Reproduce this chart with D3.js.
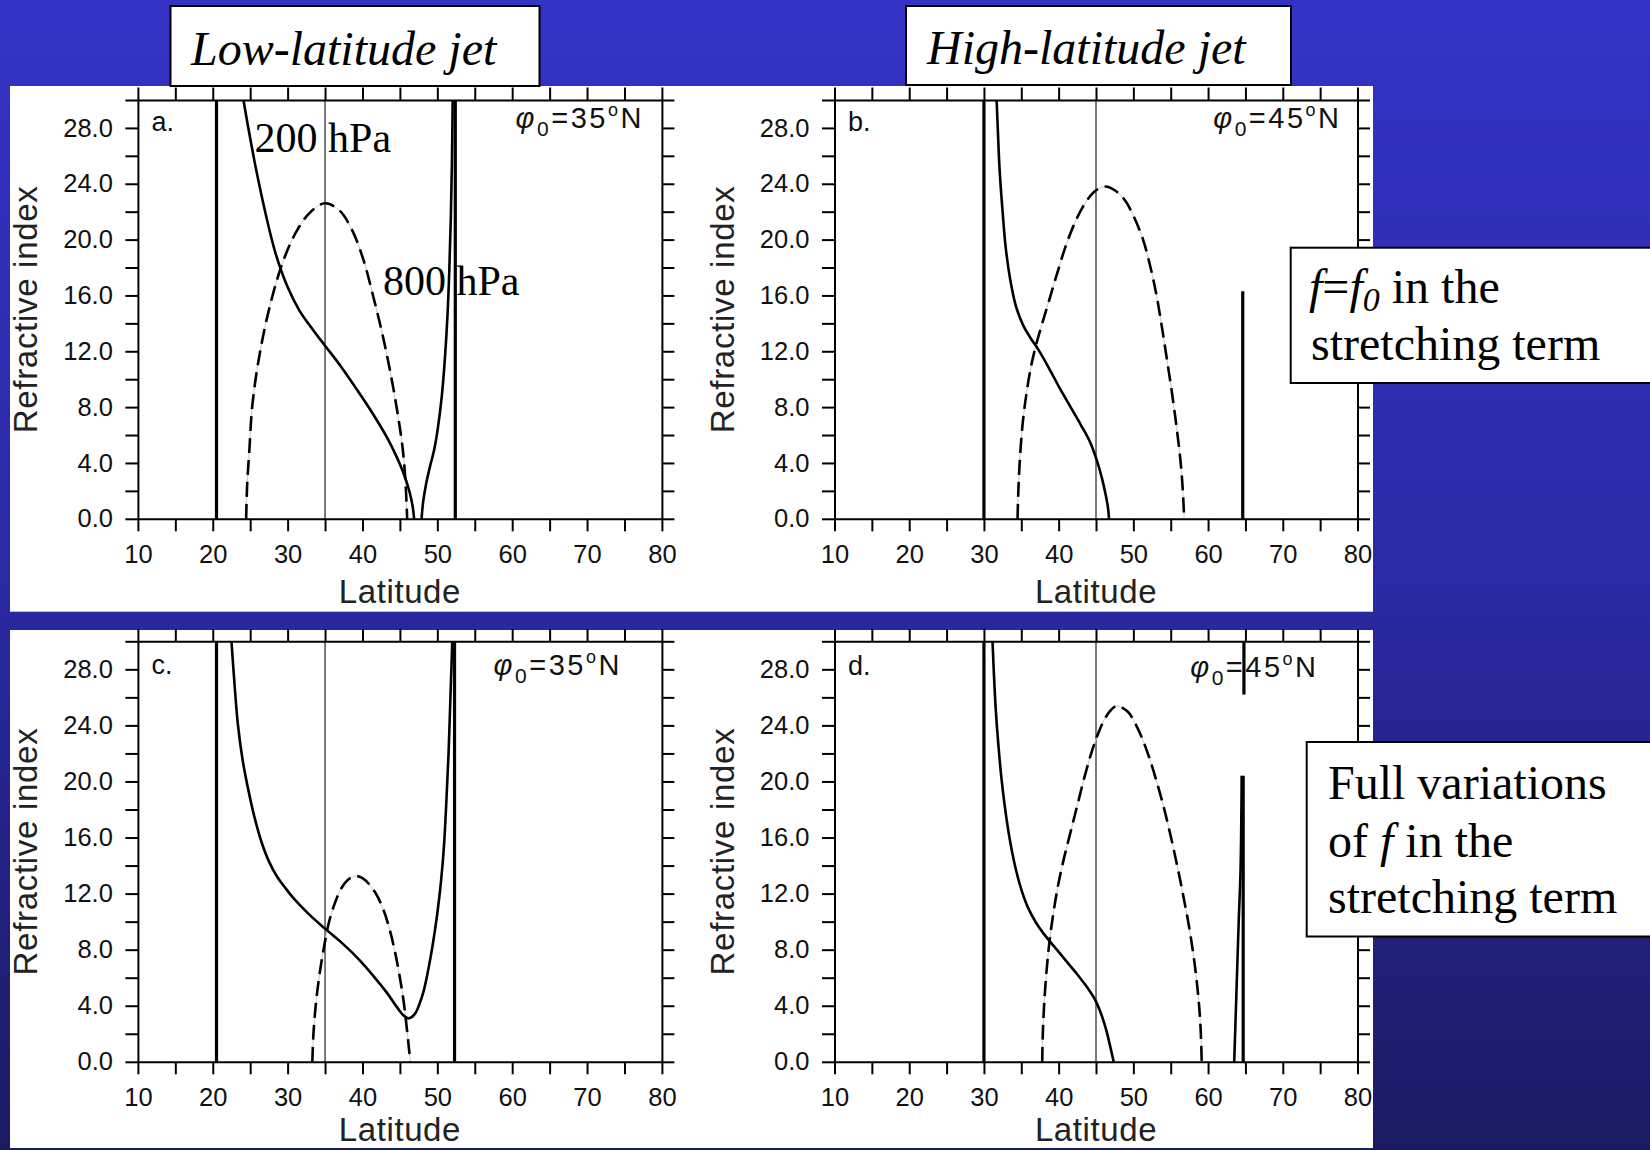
<!DOCTYPE html>
<html><head><meta charset="utf-8">
<script src="https://cdn.jsdelivr.net/npm/d3@7"></script>
<style>body{margin:0;background:#fff;} svg{display:block;}</style>
</head><body>
<svg id="chart" width="1650" height="1150"></svg>
<script>
// ---------------- data ----------------
const latTicks = [10,15,20,25,30,35,40,45,50,55,60,65,70,75,80];
const latLabels = [10,20,30,40,50,60,70,80];
const refTicks = [0,2,4,6,8,10,12,14,16,18,20,22,24,26,28,30];
const refLabels = [0,4,8,12,16,20,24,28];

const panelLetters = ["a.", "b.", "c.", "d."];
const phi0 = [35, 45, 35, 45];
const titles = ["Low-latitude jet", "High-latitude jet"];

// panel a (phi0 = 35N, f = f0): solid = 200 hPa, dashed = 800 hPa
const aSolid1 = [[24.1,30],[24.75,28],[25.8,25],[27.0,22],[28.4,19],[30.0,16.6],[31.6,14.9],[33.3,13.6],[35,12.4],[37,11.0],[39.2,9.3],[41.3,7.6],[43.2,5.9],[44.6,4.4],[45.6,3.1],[46.3,1.9],[46.7,0.9],[46.9,0]];
const aSolid2 = [[47.9,0],[48.1,1.2],[48.5,2.5],[49.0,3.7],[49.6,5.0],[50.1,6.6],[50.6,8.8],[51.0,11.4],[51.35,14.5],[51.6,17.8],[51.8,21.5],[51.95,25.5],[52.05,30]];
const aDash = [[24.46,0],[24.6,2.5],[24.9,5],[25.3,8.2],[26.3,11.9],[27.8,15.6],[29.5,18.6],[31.3,20.7],[33.1,22.0],[35,22.6],[36.9,22.1],[38.6,20.7],[40.1,18.6],[41.5,15.8],[42.8,12.9],[43.9,10.0],[44.8,7.2],[45.4,4.9],[45.75,2.6],[45.97,0]];
const aWalls = [[20.5,0,30],[52.4,0,30]];

// panel b (phi0 = 45N, f = f0)
const bSolid1 = [[31.7,30],[31.85,28],[32.1,25],[32.5,22],[32.9,19.5],[33.5,17.2],[34.3,15.2],[35.3,13.8],[36.3,12.9],[37.3,12.1],[38.7,10.8],[40.2,9.3],[41.6,8.0],[43.0,6.7],[44.2,5.5],[45.1,4.2],[45.8,2.9],[46.3,1.7],[46.6,0.8],[46.75,0]];
const bDash = [[34.5,0],[34.62,2.2],[34.85,4.6],[35.2,6.9],[35.7,9.0],[36.3,10.9],[37.0,12.5],[37.8,14.0],[38.7,15.6],[39.7,17.4],[40.8,19.3],[42.0,21.0],[43.3,22.4],[44.7,23.4],[46.2,23.8],[47.6,23.5],[48.9,22.8],[50.1,21.6],[51.3,20.0],[52.3,18.0],[53.1,16.0],[53.8,13.8],[54.5,11.4],[55.2,8.9],[55.8,6.5],[56.3,4.2],[56.6,2.2],[56.8,0]];
const bWalls = [[30.0,0,30],[64.64,0,16.3]];

// panel c (phi0 = 35N, full f)
const cSolid1 = [[22.5,30],[22.9,27],[23.35,24.1],[24.0,21.5],[24.75,19.4],[25.6,17.4],[26.5,15.7],[27.5,14.3],[28.6,13.2],[29.7,12.4],[30.9,11.6],[32.9,10.5],[35,9.5],[37.2,8.5],[39.35,7.4],[41.5,6.1],[43.3,4.9],[44.6,3.9],[45.5,3.3],[46.1,3.1],[46.6,3.2],[47.1,3.5],[47.6,4.1],[48.2,5.1],[48.8,6.6],[49.4,8.4],[50.0,10.6],[50.5,12.9],[50.9,15.5],[51.2,18.5],[51.5,22],[51.75,26],[52.0,30]];
const cDash = [[33.3,0],[33.45,2],[33.75,4],[34.2,6],[34.8,8],[35.5,9.9],[36.3,11.3],[37.2,12.4],[38.1,13.0],[39.06,13.25],[40.0,13.1],[41.0,12.6],[42.0,11.8],[42.9,10.7],[43.7,9.3],[44.4,7.7],[45.0,6.0],[45.5,4.3],[45.9,2.5],[46.2,1.0],[46.4,0]];
const cWalls = [[20.5,0,30],[52.3,0,30]];

// panel d (phi0 = 45N, full f)
const dSolid1 = [[31.15,30],[31.35,27.5],[31.6,25],[31.95,22.5],[32.35,20.2],[32.85,18.0],[33.45,15.9],[34.2,13.9],[35.0,12.3],[35.9,11.0],[37.0,9.9],[38.2,9.0],[39.6,8.1],[41.0,7.2],[42.4,6.3],[43.7,5.4],[44.8,4.5],[45.7,3.4],[46.4,2.2],[46.9,1.1],[47.2,0.4],[47.37,0]];
const dSolid2 = [[63.5,0],[63.8,5],[64.1,10],[64.35,13.7],[64.5,20.4]];
const dDash = [[37.8,0],[37.88,2],[38.05,4],[38.35,6.3],[38.8,8.7],[39.35,10.8],[40.0,12.8],[40.75,14.6],[41.6,16.4],[42.5,18.3],[43.4,20.2],[44.3,21.9],[45.2,23.3],[46.2,24.5],[47.0,25.1],[47.8,25.4],[48.7,25.2],[49.4,24.9],[50.0,24.4],[51.0,23.3],[52.0,21.9],[53.0,20.2],[54.0,18.3],[55.0,16.1],[55.9,13.9],[56.7,11.8],[57.5,9.5],[58.2,7.0],[58.7,4.6],[59.0,2.4],[59.15,0]];
const dWalls = [[30.0,0,30],[64.7,0,20.4],[64.8,26.2,30]];

const panelSolids = [[aSolid1, aSolid2], [bSolid1], [cSolid1], [dSolid1, dSolid2]];
const panelDashes = [aDash, bDash, cDash, dDash];
const panelWalls = [aWalls, bWalls, cWalls, dWalls];

// ---------------- layout ----------------
const SANS = "'Liberation Sans', Arial, sans-serif";
const SERIF = "'Liberation Serif', 'Times New Roman', serif";
const svg = d3.select("#chart");

const defs = svg.append("defs");
const grad = defs.append("linearGradient").attr("id","bg").attr("x1",0).attr("y1",0).attr("x2",0).attr("y2",1);
grad.append("stop").attr("offset","0%").attr("stop-color","rgb(52,51,198)");
grad.append("stop").attr("offset","50%").attr("stop-color","rgb(43,41,164)");
grad.append("stop").attr("offset","100%").attr("stop-color","rgb(27,26,98)");
svg.append("rect").attr("width",1650).attr("height",1150).attr("fill","url(#bg)");

// white panels
svg.append("rect").attr("x",10).attr("y",86).attr("width",1363).attr("height",525.7).attr("fill","#fff");
svg.append("rect").attr("x",10).attr("y",630).attr("width",1363).attr("height",518).attr("fill","#fff");

const layouts = [
  {x0:137.9, x1:661.9, y0:518.8, y1:100.0, phiOff:18, phiBase:128, letBase:131, latOff:84},
  {x0:834.5, x1:1357.5, y0:518.8, y1:100.0, phiOff:16, phiBase:128, letBase:131, latOff:84},
  {x0:137.9, x1:661.9, y0:1061.8, y1:641.3, phiOff:40, phiBase:675, letBase:674, latOff:79.5},
  {x0:834.5, x1:1357.5, y0:1061.8, y1:641.3, phiOff:39, phiBase:677, letBase:675, latOff:79.5}
];

layouts.forEach((L, i) => {
  const x = d3.scaleLinear().domain([10, 80]).range([L.x0, L.x1]);
  const y = d3.scaleLinear().domain([0, 30]).range([L.y0, L.y1]);
  const g = svg.append("g");

  // phi0 reference line (thin)
  g.append("line").attr("x1", x(phi0[i])).attr("x2", x(phi0[i]))
    .attr("y1", y(0)).attr("y2", y(30)).attr("stroke","#333").attr("stroke-width",1.3);

  const line = d3.line().x(d => x(d[0])).y(d => y(d[1])).curve(d3.curveCatmullRom.alpha(0.5));

  // dashed curve (800 hPa): faint underlay + dashes
  g.append("path").attr("d", line(panelDashes[i])).attr("fill","none")
    .attr("stroke","#c8c8c8").attr("stroke-width",1);
  g.append("path").attr("d", line(panelDashes[i])).attr("fill","none")
    .attr("stroke","#000").attr("stroke-width",2.6).attr("stroke-dasharray","15,7");

  // solid curves (200 hPa)
  panelSolids[i].forEach(s => {
    g.append("path").attr("d", line(s)).attr("fill","none")
      .attr("stroke","#000").attr("stroke-width",2.6);
  });

  // thick vertical lines
  panelWalls[i].forEach(w => {
    g.append("line").attr("x1", x(w[0])).attr("x2", x(w[0]))
      .attr("y1", y(w[1])).attr("y2", y(w[2])).attr("stroke","#000").attr("stroke-width",3.2);
  });

  // axes
  const TS = 12.5;
  const fmtY = d => refLabels.includes(d) ? d.toFixed(1) : "";
  const fmtX = d => latLabels.includes(d) ? String(d) : "";
  const axL = g.append("g").attr("transform", `translate(${L.x0},0)`)
    .call(d3.axisLeft(y).tickValues(refTicks).tickSize(TS).tickSizeOuter(0).tickPadding(12.5).tickFormat(fmtY));
  const axR = g.append("g").attr("transform", `translate(${L.x1},0)`)
    .call(d3.axisRight(y).tickValues(refTicks).tickSize(TS).tickSizeOuter(0).tickFormat(""));
  const axB = g.append("g").attr("transform", `translate(0,${L.y0})`)
    .call(d3.axisBottom(x).tickValues(latTicks).tickSize(TS).tickSizeOuter(0).tickPadding(14).tickFormat(fmtX));
  const axT = g.append("g").attr("transform", `translate(0,${L.y1})`)
    .call(d3.axisTop(x).tickValues(latTicks).tickSize(TS).tickSizeOuter(0).tickFormat(""));
  [axL, axR, axB, axT].forEach(a => {
    a.selectAll("path, line").attr("stroke","#000").attr("stroke-width",2);
    a.selectAll("text").style("font-family", SANS).style("font-size","25.5px").attr("fill","#111");
  });

  // axis titles
  g.append("text").attr("x", (L.x0 + L.x1) / 2).attr("y", L.y0 + L.latOff)
    .attr("text-anchor","middle").style("font-family", SANS).style("font-size","33px")
    .style("letter-spacing","0.6px").attr("fill","#222").text("Latitude");
  g.append("text").attr("transform", `translate(${L.x0 - 101},${(L.y0 + L.y1) / 2}) rotate(-90)`)
    .attr("text-anchor","middle").style("font-family", SANS).style("font-size","33px")
    .style("letter-spacing","0.7px").attr("fill","#222").text("Refractive index");

  // panel letter
  g.append("text").attr("x", L.x0 + 13.5).attr("y", L.letBase)
    .style("font-family", SANS).style("font-size","27px").attr("fill","#111").text(panelLetters[i]);

  // phi0 label
  const t = g.append("text").attr("x", L.x1 - L.phiOff).attr("y", L.phiBase)
    .attr("text-anchor","end").style("font-family", SANS).style("font-size","29px")
    .style("letter-spacing","2.5px").attr("fill","#111");
  t.append("tspan").text("φ").style("font-style","italic");
  t.append("tspan").text("0").attr("dy", 8).style("font-size","21px");
  t.append("tspan").text("=" + phi0[i]).attr("dy", -8);
  t.append("tspan").text("o").attr("dy", -12).style("font-size","18px");
  t.append("tspan").text("N").attr("dy", 12);
});

// pressure-level annotations (panel a)
svg.append("text").attr("x",254.6).attr("y",151.7).style("font-family",SERIF).style("font-size","42px").text("200 hPa");
svg.append("text").attr("x",383).attr("y",295).style("font-family",SERIF).style("font-size","42px").text("800 hPa");

// title boxes
function box(x, yy, w, h) {
  svg.append("rect").attr("x",x).attr("y",yy).attr("width",w).attr("height",h)
    .attr("fill","#fff").attr("stroke","#000").attr("stroke-width",2);
}
box(170.5, 6, 369, 80);
svg.append("text").attr("x",191).attr("y",64.5).style("font-family",SERIF).style("font-size","48px")
  .style("font-style","italic").text(titles[0]);
box(906, 6, 385, 79);
svg.append("text").attr("x",927).attr("y",63.5).style("font-family",SERIF).style("font-size","48px")
  .style("font-style","italic").text(titles[1]);

// f = f0 box
box(1290.7, 247.7, 420, 135.3);
const t3 = svg.append("text").attr("x",1309).attr("y",303).style("font-family",SERIF).style("font-size","48px");
t3.append("tspan").text("f").style("font-style","italic");
t3.append("tspan").text("=");
t3.append("tspan").text("f").style("font-style","italic");
t3.append("tspan").text("0").style("font-style","italic").style("font-size","34px").attr("dy",8);
t3.append("tspan").text(" in the").attr("dy",-8);
svg.append("text").attr("x",1311).attr("y",360).style("font-family",SERIF).style("font-size","48px").text("stretching term");

// full f box
box(1306.7, 742, 420, 194.5);
svg.append("text").attr("x",1328).attr("y",799).style("font-family",SERIF).style("font-size","48px").text("Full variations");
const t4 = svg.append("text").attr("x",1328).attr("y",856.7).style("font-family",SERIF).style("font-size","48px");
t4.append("tspan").text("of ");
t4.append("tspan").text("f").style("font-style","italic");
t4.append("tspan").text(" in the");
svg.append("text").attr("x",1328).attr("y",913).style("font-family",SERIF).style("font-size","48px").text("stretching term");
</script>
</body></html>
